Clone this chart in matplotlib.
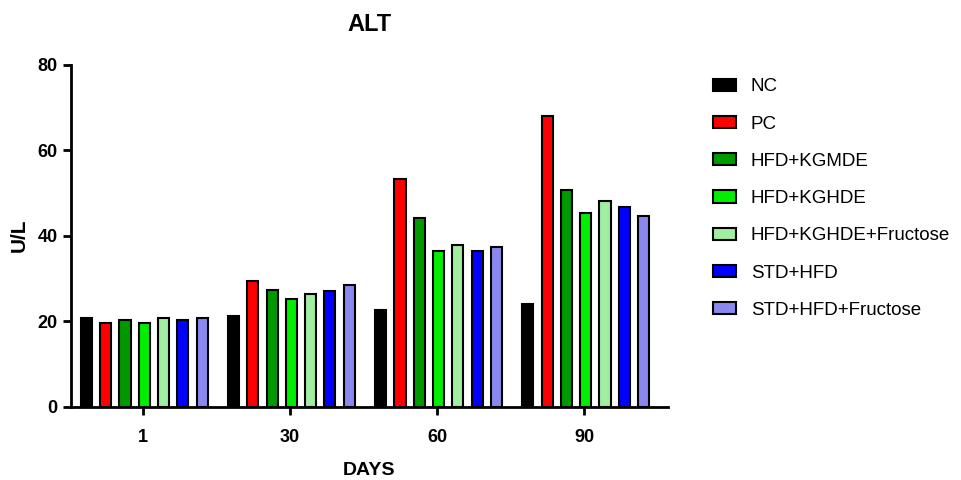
import numpy as np
import matplotlib
matplotlib.use('Agg')
import matplotlib.pyplot as plt

plt.rcParams['font.family'] = ['Liberation Sans', 'DejaVu Sans']

days = ['1', '30', '60', '90']
groups = ['NC', 'PC', 'HFD+KGMDE', 'HFD+KGHDE', 'HFD+KGHDE+Fructose', 'STD+HFD', 'STD+HFD+Fructose']
colors = ['#000000', '#ff0000', '#009a00', '#00ee00', '#a0eea0', '#0000ff', '#8888ee']

nc = [20.8, 21.2, 22.6, 24.0]
pc = [19.5, 29.4, 53.2, 68.1]
hfd_kgmde = [20.3, 27.3, 44.1, 50.6]
hfd_kghde = [19.5, 25.1, 36.3, 45.4]
hfd_kghde_fru = [20.7, 26.3, 37.9, 48.2]
std_hfd = [20.3, 27.1, 36.3, 46.8]
std_hfd_fru = [20.8, 28.5, 37.3, 44.7]
values = [nc, pc, hfd_kgmde, hfd_kghde, hfd_kghde_fru, std_hfd, std_hfd_fru]

fig = plt.figure(figsize=(9.62, 4.8), dpi=100)
ax = fig.add_axes([0.0735, 0.153, 0.621, 0.712])

x = np.arange(len(days))
pitch = 0.131
width = 0.075
for i, (name, vals) in enumerate(zip(groups, values)):
    ax.bar(x + (i - 3) * pitch + 0.01, vals, width=width, color=colors[i],
           edgecolor='black', linewidth=1.5, label=name)

ax.set_xlim(-0.49, 3.57)
ax.set_ylim(0, 80)
ax.set_yticks([0, 20, 40, 60, 80])
ax.set_xticks(x)
ax.set_xticklabels(days)
ax.spines['right'].set_visible(False)
ax.spines['top'].set_visible(False)
ax.spines['left'].set_linewidth(2)
ax.spines['bottom'].set_linewidth(2)
ax.tick_params(axis='both', width=2, length=6, labelsize=13, direction='out')
ax.tick_params(axis='x', pad=10)
for lab in ax.get_xticklabels() + ax.get_yticklabels():
    lab.set_fontweight('bold')

ax.set_title('ALT', fontsize=17, fontweight='bold', pad=24)
ax.set_xlabel('DAYS', fontsize=14, fontweight='bold', labelpad=12)
ax.set_ylabel('U/L', fontsize=15, fontweight='bold', labelpad=6)

leg = ax.legend(loc='upper left', bbox_to_anchor=(0.724, 0.872), bbox_transform=fig.transFigure,
                frameon=False, fontsize=13.5, handlelength=1.2, handleheight=0.62,
                labelspacing=1.08, handletextpad=0.8)

plt.savefig('out.png', dpi=100)
plt.close()
